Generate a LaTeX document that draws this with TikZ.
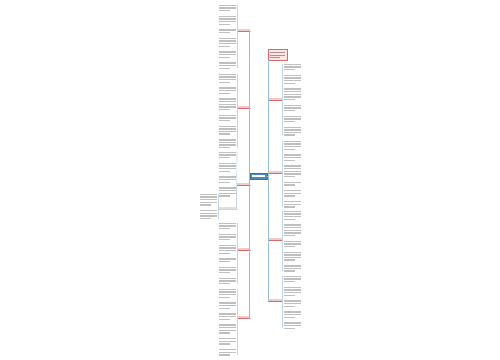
\documentclass[tikz,border=0pt]{standalone}
\usetikzlibrary{positioning}
\definecolor{trunkblue}{HTML}{9DBCD6}
\definecolor{rootblue}{HTML}{4B8DC3}
\definecolor{labred}{HTML}{D66A6A}
\definecolor{labpink}{HTML}{F3CACA}
\definecolor{boxpink}{HTML}{FCE6E6}
\tikzset{
  txtline/.style={line width=1pt, black!25},
  trunk/.style={draw=trunkblue, line width=0.7pt},
  branch/.style={draw=trunkblue!60, line width=0.5pt},
  lab/.style={fill=labpink, inner sep=0pt, minimum width=9.75pt, minimum height=1.6pt},
  rlab/.style={lab, minimum width=10.5pt},
  labline/.style={draw=labred, line width=0.8pt},
}
\newdimen\leafy
% leaf column: x, bracket x, first y, line counts, name
\newcommand{\leafcol}[5]{%
  \global\leafy=#3pt
  \coordinate (#5-a) at (#2,#3+1);
  \foreach \n in {#4}{%
    \pgfmathsetmacro{\yt}{\leafy}
    \foreach \k in {1,...,\n}{%
      \pgfmathsetmacro{\barw}{\k==\n ? 11 : 17}
      \draw[txtline] (#1,\yt+\k*2.6-1.1) -- ++(\barw,0);
    }
    \pgfmathparse{\leafy+\n*2.6+3.2}
    \global\leafy=\pgfmathresult pt
  }
  \pgfmathsetmacro{\yend}{\leafy-4.2}
  \coordinate (#5-b) at (#2,\yend);
}
\begin{document}
\begin{tikzpicture}[x=0.75pt, y=-0.75pt]
\useasboundingbox (0,0) rectangle (500,360);

% central topic
\node[draw=rootblue!80!black, fill=rootblue, line width=0.4pt, inner sep=0pt,
  minimum width=12.75pt, minimum height=4.5pt] (root) at (258.5,176) {};
\draw[white, line width=0.9pt] ([xshift=1.5pt]root.west) -- ([xshift=-1.5pt]root.east);

% left branches
\node[lab] (L1) at (243.5,30.5) {};
\node[lab] (L2) at (243.5,107.5) {};
\node[lab] (L3) at (243.5,184.5) {};
\node[lab] (L4) at (243.5,249.5) {};
\node[lab] (L5) at (243.5,317.5) {};
\foreach \i in {1,...,5}{
  \draw[labline] (L\i.south west) -- (L\i.south east);
  \draw[trunk] (root.west) |- (L\i.south east);
}

% right branches
\node[draw=labred, fill=boxpink, line width=0.5pt, inner sep=0pt,
  minimum width=14.25pt, minimum height=8.25pt] (top) at (277.5,54.5) {};
\foreach \k/\w in {1/15,2/15,3/10}
  \draw[line width=0.9pt, labred!50!black!55] (270,50+\k*2.6) -- ++(\w,0);
\node[rlab] (R1) at (275,99.5) {};
\node[rlab] (R2) at (275,172.5) {};
\node[rlab] (R3) at (275,239.5) {};
\node[rlab] (R4) at (275,300.5) {};
\coordinate (rt) at (268,176);
\draw[trunk] (root.east) -- (rt);
\draw[trunk] (rt) |- (top.south west);
\foreach \i in {1,...,4}{
  \draw[labline] (R\i.south west) -- (R\i.south east);
  \draw[trunk] (rt) |- (R\i.south west);
}

% left leaves
\leafcol{219}{237}{4}{3,4,2,4,3,3}{g1}
\leafcol{219}{237}{73}{4,3,5,3,4,4}{g2}
\leafcol{219}{237}{151}{3,4,3,4}{g3}
\leafcol{219}{237}{222}{3,3,4,2,3,3}{g4}
\leafcol{219}{237}{288}{4,3,3,4,3,3}{g5}
\draw[branch] (g1-a) -- (g1-b);
\draw[branch] (g2-a) -- (g2-b);
\draw[branch] (g3-a) -- (L3.south west) |- (g3-b);
\draw[branch] (g4-a) -- (g4-b);
\draw[branch] (g5-a) -- (g5-b);

% sub topic under third left branch
\node[fill=black!12, inner sep=0pt, minimum width=13.5pt, minimum height=1.6pt] (S) at (227.5,207.6) {};
\draw[branch] (S.south west) -- (S.south east);
\draw[branch] (L3.south west) |- (S.south east);
\leafcol{200}{218}{193}{5,4}{s1}
\draw[branch] (s1-a) -- (s1-b);

% right leaves
\leafcol{284}{282.5}{63}{3,4,5,3,3,4}{h1}
\leafcol{284}{282.5}{140}{4,3,5,2,3,3}{h2}
\leafcol{284}{282.5}{210}{4,5,3,4,3}{h3}
\leafcol{284}{282.5}{275}{3,4,3,3,3}{h4}
\draw[branch] (h1-a) -- (h1-b);
\draw[branch] (h2-a) -- (h2-b);
\draw[branch] (h3-a) -- (h3-b);
\draw[branch] (h4-a) -- (h4-b);
\end{tikzpicture}
\end{document}
